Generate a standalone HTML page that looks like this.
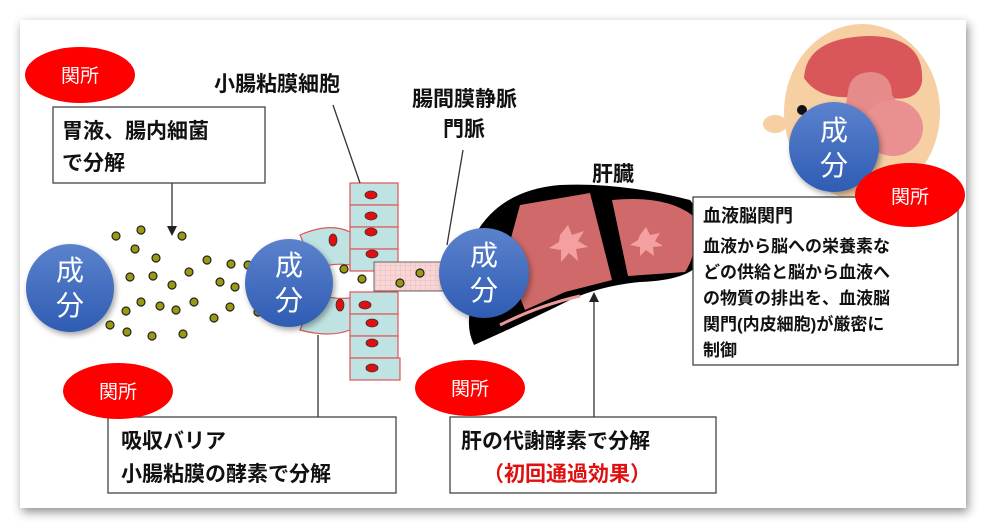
<!DOCTYPE html>
<html><head><meta charset="utf-8"><style>
html,body{margin:0;padding:0;width:986px;height:528px;overflow:hidden;background:#fff}
svg{display:block}
text{font-family:"Liberation Sans","Noto Sans CJK JP",sans-serif}
</style></head><body>
<svg width="986" height="528" viewBox="0 0 986 528" xmlns="http://www.w3.org/2000/svg">
<defs>
<filter id="sh" x="-5%" y="-5%" width="110%" height="115%"><feDropShadow dx="2" dy="4" stdDeviation="5" flood-color="#000" flood-opacity="0.45"/></filter>
<linearGradient id="bl" x1="0" y1="0" x2="0" y2="1"><stop offset="0" stop-color="#5b82cc"/><stop offset="1" stop-color="#2f5cb4"/></linearGradient>
<pattern id="grid" width="5" height="5" patternUnits="userSpaceOnUse"><rect width="5" height="5" fill="#f6d6d6"/><path d="M0 0H5M0 0V5" stroke="#e9a9a9" stroke-width="0.6"/></pattern>
</defs>
<rect x="20" y="20" width="946" height="488" fill="#fff" filter="url(#sh)"/>

<!-- head -->
<g>
<ellipse cx="862" cy="112" rx="78" ry="88" fill="#f6cfa3"/>
<ellipse cx="775" cy="124" rx="12" ry="9" fill="#f6cfa3"/>
<path d="M804 78 Q806 38 868 36 Q925 36 922 82 Q918 102 890 98 Q875 94 860 96 Q820 102 804 78Z" fill="#d9575a"/>
<path d="M848 92 Q850 72 872 72 Q892 74 892 95 Q905 110 900 140 Q880 160 860 150 Q840 130 848 92Z" fill="#e68a8a"/>
<ellipse cx="893" cy="128" rx="30" ry="28" fill="#e99090"/>
<circle cx="802" cy="110" r="5" fill="#111"/>
</g>

<!-- dots -->
<g fill="#9a9a10" stroke="#222" stroke-width="1.2">
<circle cx="116" cy="236" r="4"/><circle cx="141" cy="230" r="4"/><circle cx="182" cy="236" r="4"/><circle cx="135" cy="249" r="4"/><circle cx="156" cy="258" r="4"/><circle cx="130" cy="277" r="4"/><circle cx="153" cy="276" r="4"/><circle cx="172" cy="285" r="4"/><circle cx="189" cy="272" r="4"/><circle cx="207" cy="260" r="4"/><circle cx="231" cy="264" r="4"/><circle cx="220" cy="282" r="4"/><circle cx="235" cy="287" r="4"/><circle cx="141" cy="302" r="4"/><circle cx="160" cy="306" r="4"/><circle cx="176" cy="310" r="4"/><circle cx="194" cy="302" r="4"/><circle cx="126" cy="311" r="4"/><circle cx="110" cy="325" r="4"/><circle cx="127" cy="332" r="4"/><circle cx="152" cy="336" r="4"/><circle cx="183" cy="334" r="4"/><circle cx="214" cy="318" r="4"/><circle cx="230" cy="307" r="4"/><circle cx="258" cy="312" r="4"/><circle cx="248" cy="265" r="4"/>
</g>

<!-- intestine -->
<g stroke="#e05555" stroke-width="1.2" fill="#bfe3e3">
<path d="M300 235 Q330 222 350 232 L372 238 L376 268 L350 265 Q330 262 315 270 Z"/>
<path d="M300 330 Q330 338 350 330 L372 325 L376 295 L350 298 Q330 300 315 292 Z"/>
<rect x="350" y="183" width="48" height="22"/><rect x="350" y="205" width="48" height="22"/><rect x="350" y="227" width="48" height="22"/><rect x="350" y="249" width="48" height="22"/>
<rect x="350" y="292" width="48" height="22"/><rect x="350" y="314" width="48" height="22"/><rect x="350" y="336" width="48" height="22"/><rect x="350" y="358" width="50" height="22"/>
</g>
<rect x="374" y="262" width="80" height="29" fill="url(#grid)" stroke="#666" stroke-width="1"/>
<g fill="#e01010" stroke="#333" stroke-width="0.8">
<ellipse cx="371" cy="195" rx="6" ry="4"/><ellipse cx="371" cy="216" rx="6" ry="4"/><ellipse cx="371" cy="232" rx="6" ry="4"/><ellipse cx="372" cy="254" rx="6" ry="4"/>
<ellipse cx="365" cy="305" rx="6" ry="4"/><ellipse cx="372" cy="323" rx="6" ry="4"/><ellipse cx="372" cy="343" rx="6" ry="4"/><ellipse cx="372" cy="368" rx="6" ry="4"/>
<ellipse cx="333" cy="240" rx="4" ry="6"/><ellipse cx="340" cy="305" rx="4" ry="6"/>
</g>
<g fill="#9a9a10" stroke="#222" stroke-width="1.2"><circle cx="344" cy="269" r="4"/><circle cx="362" cy="279" r="4"/><circle cx="400" cy="283" r="4"/><circle cx="420" cy="273" r="4"/></g>

<!-- liver -->
<path d="M475 235 Q500 190 560 185 Q620 182 690 200 Q708 220 700 262 Q690 280 640 282 Q600 286 570 300 Q530 320 474 345 Q462 320 478 290 Q462 260 475 235Z" fill="#000"/>
<path d="M520 205 L590 193 L612 280 L565 292 L525 310 L505 260Z" fill="#d06a6a"/>
<path d="M612 200 Q665 195 692 215 Q700 250 685 272 L628 276 Z" fill="#d06a6a"/>
<path d="M500 325 Q540 305 580 296" stroke="#e99" stroke-width="3" fill="none"/>
<path d="M560 235 l8 -10 l4 10 l12 -4 l-6 10 l10 6 l-12 2 l2 12 l-9 -8 l-8 9 l0 -12 l-12 -2 l10 -6z" fill="#f4a0a0"/>
<path d="M640 235 l6 -8 l4 8 l10 -2 l-5 8 l8 5 l-10 1 l1 9 l-8 -6 l-6 6 l0 -9 l-10 -2 l8 -5z" fill="#f4a0a0"/>

<!-- lines -->
<g stroke="#333" stroke-width="1.3" fill="none">
<line x1="172" y1="183" x2="172" y2="228"/>
<line x1="333" y1="105" x2="360" y2="183"/>
<line x1="463" y1="150" x2="447" y2="245"/>
<line x1="318" y1="335" x2="318" y2="417"/>
<line x1="594" y1="300" x2="594" y2="417"/>
</g>
<path d="M167 226 L177 226 L172 236Z" fill="#222"/>
<path d="M589 302 L599 302 L594 292Z" fill="#222"/>

<!-- boxes -->
<g fill="#fff" stroke="#444" stroke-width="1.3">
<rect x="53" y="107" width="212" height="76"/>
<rect x="108" y="417" width="288" height="76"/>
<rect x="450" y="417" width="266" height="76"/>
<rect x="693" y="197" width="265" height="168"/>
</g>
<g font-size="21" fill="#111" font-weight="bold">
<text x="62" y="138">胃液、腸内細菌</text>
<text x="62" y="170">で分解</text>
<text x="121" y="448">吸収バリア</text>
<text x="121" y="481">小腸粘膜の酵素で分解</text>
<text x="461" y="448">肝の代謝酵素で分解</text>
<text x="483" y="481" fill="#e01010">（初回通過効果）</text>
<text x="214" y="91">小腸粘膜細胞</text>
<text x="412" y="106">腸間膜静脈</text>
<text x="443" y="136">門脈</text>
<text x="592" y="181">肝臓</text>
</g>
<g font-size="17" fill="#111" font-weight="bold">
<text x="703" y="222" font-size="18">血液脳関門</text>
<text x="703" y="252">血液から脳への栄養素な</text>
<text x="703" y="278">どの供給と脳から血液へ</text>
<text x="703" y="304">の物質の排出を、血液脳</text>
<text x="703" y="330">関門(内皮細胞)が厳密に</text>
<text x="703" y="356">制御</text>
</g>

<!-- circles -->
<g fill="url(#bl)" style="filter:drop-shadow(2px 3px 3px rgba(0,0,0,.35))">
<circle cx="70" cy="288" r="44"/><circle cx="289" cy="283" r="44"/><circle cx="484" cy="273" r="45"/><circle cx="834" cy="147" r="45"/>
</g>
<g fill="#fff" font-size="28" text-anchor="middle">
<text x="70" y="280">成</text><text x="70" y="315">分</text>
<text x="289" y="275">成</text><text x="289" y="310">分</text>
<text x="484" y="265">成</text><text x="484" y="300">分</text>
<text x="834" y="140">成</text><text x="834" y="175">分</text>
</g>

<!-- red ellipses -->
<g fill="#fe0000">
<ellipse cx="80" cy="75" rx="55" ry="28"/>
<ellipse cx="118" cy="391" rx="55" ry="28"/>
<ellipse cx="470" cy="388" rx="55" ry="28"/>
<ellipse cx="910" cy="195" rx="55" ry="32"/>
</g>
<g fill="#fff" font-size="19" text-anchor="middle">
<text x="80" y="82">関所</text><text x="118" y="398">関所</text><text x="470" y="395">関所</text><text x="910" y="203">関所</text>
</g>
</svg>
</body></html>
